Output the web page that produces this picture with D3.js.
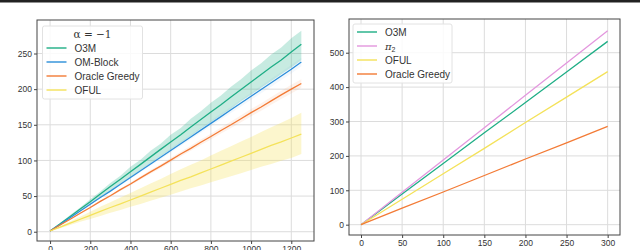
<!DOCTYPE html>
<html>
<head>
<meta charset="utf-8">
<script src="https://cdn.jsdelivr.net/npm/d3@7"></script>
<style>
  body { margin: 0; background: #fff; }
  svg { display: block; font-family: "Liberation Sans", Arial, sans-serif; }
</style>
</head>
<body>
<div id="chart"></div>
<script>
// ---- left panel data (alpha = -1) ----
var leftT = [0, 50, 100, 150, 200, 250, 300, 350, 400, 450, 500, 550, 600, 650,
  700, 750, 800, 850, 900, 950, 1000, 1050, 1100, 1150, 1200, 1250];
var o3mMean = [1, 11, 21.5, 32, 42, 53, 63.5, 73.5, 84, 94.5, 105, 115.5, 126, 136,
  147, 157.5, 168, 178, 189, 199.5, 210, 220.5, 231, 241, 252, 263];
var o3mLow = [1, 10, 19.5, 29.5, 38, 48.5, 58, 67.5, 76.5, 86.5, 96, 106, 115, 124.5,
  134, 144.5, 153.5, 163, 172.5, 183, 192, 202, 211, 221, 230.5, 240.5];
var o3mHigh = [1, 12, 23.5, 34, 45.5, 56.5, 68.5, 78.5, 91, 101, 113.5, 123.5, 136, 145.5,
  158.5, 169, 181, 191, 203.5, 214, 226, 236.5, 248.5, 258.5, 271.5, 282];
var omMean = [1, 10, 19.5, 29, 38.5, 48, 57, 66.5, 76, 85.5, 95, 104.5, 114, 123.5,
  133, 142.5, 152, 161.5, 171, 180.5, 190, 199.5, 209, 218.5, 228, 238];
var omLow = [1, 9.8, 19, 28.3, 37.5, 46.8, 55.6, 64.8, 74, 83.3, 92.6, 101.8, 111, 120.3,
  129.6, 138.8, 148, 157.3, 166.6, 175.8, 185, 194.3, 203.5, 212.8, 222, 232];
var omHigh = [1, 10.2, 20, 29.7, 39.5, 49.2, 58.4, 68.2, 78, 87.7, 97.4, 107.2, 117, 126.7,
  136.4, 146.2, 156, 165.7, 175.4, 185.2, 195, 204.7, 214.5, 224.2, 234, 244];
var greedyMean = [1, 9.5, 17.5, 26, 34, 42.5, 50.5, 59, 67, 75.5, 84, 92, 100.5, 109,
  117, 125.5, 133.5, 142, 150, 158.5, 167, 175, 183.5, 192, 200, 208];
var greedyLow = [1, 9.2, 17, 25.2, 33, 41.2, 49, 57.2, 65, 73.2, 81.5, 89.2, 97.5, 105.7,
  113.5, 121.7, 129.5, 137.7, 145.5, 153.7, 162, 169.7, 178, 186.2, 194, 202];
var greedyHigh = [1, 9.8, 18, 26.8, 35, 43.8, 52, 60.8, 69, 77.8, 86.5, 94.8, 103.5, 112.3,
  120.5, 129.3, 137.5, 146.3, 154.5, 163.3, 172, 180.3, 189, 197.8, 206, 214];
var ofulMean = [1, 6.5, 12, 17.5, 23, 28.5, 34, 39, 44.5, 50, 55.5, 61, 66.5, 72,
  77, 82.5, 88, 93.5, 99, 104.5, 110, 115.5, 121, 126, 131.5, 137];
var ofulLow = [1, 5, 9.5, 14, 18, 22, 26.5, 30.5, 35, 39, 43.5, 47.5, 52, 56.5,
  61, 65, 69.5, 73.5, 78, 82, 86.5, 91, 95, 99.5, 103.5, 109];
var ofulHigh = [1, 8, 14.5, 21, 28, 35, 41.5, 48, 54.5, 61, 67.5, 74, 81, 87.5,
  94, 100, 107, 113.5, 120, 126.5, 133, 140, 146.5, 153, 159.5, 167];

var leftXTicks = [0, 200, 400, 600, 800, 1000, 1200];
var leftYTicks = [0, 50, 100, 150, 200, 250];

// ---- right panel data ----
var rightT = [0, 50, 100, 150, 200, 250, 300];
var rO3m = [0, 89, 178, 267, 355, 444, 533];
var rPi2 = [0, 94, 188, 282, 376, 470, 564];
var rOful = [0, 74, 148, 222, 297, 371, 445];
var rGreedy = [0, 48, 95, 143, 191, 238, 286];

var rightXTicks = [0, 50, 100, 150, 200, 250, 300];
var rightYTicks = [0, 100, 200, 300, 400, 500];

var colors = {
  o3m: "#1fae86",
  om: "#2c8fda",
  greedy: "#f37b36",
  oful: "#f4e25a",
  pi2: "#e397de"
};

var width = 640, height = 250;
var svg = d3.select("#chart").append("svg")
  .attr("width", width)
  .attr("height", height);

// dark strip along the top
svg.append("rect")
  .attr("x", 0).attr("y", 0)
  .attr("width", width).attr("height", 2.5)
  .style("fill", "#222");

function drawPanel(spec) {
  var x = d3.scaleLinear().domain(spec.xDomain).range([spec.left, spec.right]);
  var y = d3.scaleLinear().domain(spec.yDomain).range([spec.bottom, spec.top]);
  var g = svg.append("g");

  // grid
  g.selectAll(".gx").data(spec.xTicks).enter().append("line")
    .attr("x1", function(d){ return x(d); }).attr("x2", function(d){ return x(d); })
    .attr("y1", spec.top).attr("y2", spec.bottom)
    .style("stroke", "#dcdcdc").style("stroke-width", 1);
  g.selectAll(".gy").data(spec.yTicks).enter().append("line")
    .attr("y1", function(d){ return y(d); }).attr("y2", function(d){ return y(d); })
    .attr("x1", spec.left).attr("x2", spec.right)
    .style("stroke", "#dcdcdc").style("stroke-width", 1);

  // bands
  spec.series.forEach(function(s){
    if (!s.low) return;
    var area = d3.area()
      .x(function(d, i){ return x(spec.t[i]); })
      .y0(function(d, i){ return y(s.low[i]); })
      .y1(function(d, i){ return y(s.high[i]); });
    g.append("path")
      .datum(s.mean)
      .attr("d", area)
      .style("fill", s.color)
      .style("opacity", s.bandOpacity);
  });

  // lines
  spec.series.forEach(function(s){
    var line = d3.line()
      .x(function(d, i){ return x(spec.t[i]); })
      .y(function(d){ return y(d); });
    g.append("path")
      .datum(s.mean)
      .attr("d", line)
      .style("fill", "none")
      .style("stroke", s.color)
      .style("stroke-width", 1.3);
  });

  // frame
  g.append("rect")
    .attr("x", spec.left).attr("y", spec.top)
    .attr("width", spec.right - spec.left).attr("height", spec.bottom - spec.top)
    .style("fill", "none").style("stroke", "#444").style("stroke-width", 1);

  // axes
  var xAxis = d3.axisBottom(x).tickValues(spec.xTicks).tickSize(3).tickPadding(2)
    .tickFormat(d3.format("d"));
  var yAxis = d3.axisLeft(y).tickValues(spec.yTicks).tickSize(3).tickPadding(2)
    .tickFormat(d3.format("d"));
  var ax = g.append("g").attr("transform", "translate(0," + spec.bottom + ")").call(xAxis);
  var ay = g.append("g").attr("transform", "translate(" + spec.left + ",0)").call(yAxis);
  [ax, ay].forEach(function(a){
    a.select(".domain").remove();
    a.selectAll("line").style("stroke", "#444");
    a.selectAll("text").style("font-size", "8.5px").style("fill", "#333")
      .style("font-family", "Liberation Sans, Arial, sans-serif");
  });

  // legend
  var lg = spec.legend;
  g.append("rect")
    .attr("x", lg.x).attr("y", lg.y)
    .attr("width", lg.w).attr("height", lg.h)
    .attr("rx", 2)
    .style("fill", "rgba(255,255,255,0.85)")
    .style("stroke", "#e2e2e2");
  var rowY = lg.y + lg.firstRow;
  if (lg.title) {
    g.append("text")
      .attr("x", lg.x + lg.w / 2).attr("y", lg.y + 12)
      .attr("text-anchor", "middle")
      .style("font-size", "10.5px").style("fill", "#333")
      .style("font-family", "DejaVu Serif, serif")
      .text(lg.title);
  }
  spec.series.forEach(function(s, i){
    var yy = rowY + i * lg.step;
    g.append("line")
      .attr("x1", lg.x + 4).attr("x2", lg.x + 24)
      .attr("y1", yy).attr("y2", yy)
      .style("stroke", s.color).style("stroke-width", 2).style("opacity", 0.7);
    var t = g.append("text")
      .attr("x", lg.x + 32).attr("y", yy + 3.5)
      .style("font-size", "10px").style("fill", "#333");
    if (s.label === "π2") {
      t.append("tspan").style("font-style", "italic").style("font-family", "DejaVu Serif, serif").text("π");
      t.append("tspan").attr("dy", 2.5).style("font-size", "7px").text("2");
    } else {
      t.text(s.label);
    }
  });
}

drawPanel({
  left: 37, right: 314, top: 20, bottom: 241,
  xDomain: [-65, 1313], yDomain: [-13, 297],
  t: leftT, xTicks: leftXTicks, yTicks: leftYTicks,
  series: [
    {label: "O3M", color: colors.o3m, mean: o3mMean, low: o3mLow, high: o3mHigh, bandOpacity: 0.25},
    {label: "OM-Block", color: colors.om, mean: omMean, low: omLow, high: omHigh, bandOpacity: 0.06},
    {label: "Oracle Greedy", color: colors.greedy, mean: greedyMean, low: greedyLow, high: greedyHigh, bandOpacity: 0.1},
    {label: "OFUL", color: colors.oful, mean: ofulMean, low: ofulLow, high: ofulHigh, bandOpacity: 0.3}
  ],
  legend: {x: 42.5, y: 26, w: 100, h: 73, firstRow: 22, step: 14, title: "α = −1"}
});

drawPanel({
  left: 349, right: 620, top: 19, bottom: 235,
  xDomain: [-14.6, 315], yDomain: [-30, 598],
  t: rightT, xTicks: rightXTicks, yTicks: rightYTicks,
  series: [
    {label: "O3M", color: colors.o3m, mean: rO3m},
    {label: "π2", color: colors.pi2, mean: rPi2},
    {label: "OFUL", color: colors.oful, mean: rOful},
    {label: "Oracle Greedy", color: colors.greedy, mean: rGreedy}
  ],
  legend: {x: 353, y: 24, w: 99, h: 59, firstRow: 8, step: 14, title: null}
});
</script>
</body>
</html>
